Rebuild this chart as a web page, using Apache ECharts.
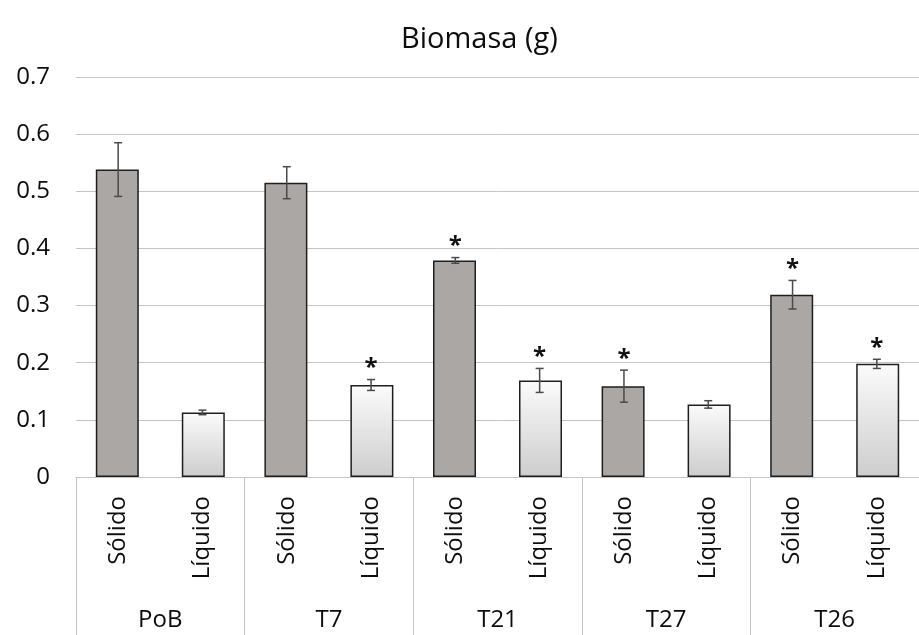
<!DOCTYPE html>
<html>
<head>
<meta charset="utf-8">
<script src="https://cdn.jsdelivr.net/npm/echarts@6/dist/echarts.min.js"></script>
<style>
html,body{margin:0;padding:0;background:#fff;}
#chart{width:919px;height:635px;}
</style>
</head>
<body>
<div id="chart"></div>
<script>
// ---- data ----
const groups = ['PoB', 'T7', 'T21', 'T27', 'T26'];
const subLabels = ['Sólido', 'Líquido'];
const solidValues = [0.538, 0.515, 0.379, 0.159, 0.319];
const solidErrors = [0.047, 0.028, 0.005, 0.028, 0.025];
const solidSignif = [0, 0, 1, 1, 1];
const liquidValues = [0.113, 0.161, 0.169, 0.127, 0.198];
const liquidErrors = [0.004, 0.0095, 0.021, 0.0065, 0.008];
const liquidSignif = [0, 1, 1, 0, 1];
const yTicks = [0, 0.1, 0.2, 0.3, 0.4, 0.5, 0.6, 0.7];

const FONT = 'Open Sans';
const subCats = [];
groups.forEach(() => subLabels.forEach(s => subCats.push(s)));

function errData(values, errors, signif, side) {
  return values.map((v, i) => [i, v, errors[i], signif[i], side]);
}

function renderErr(params, api) {
  const idx = api.value(0), v = api.value(1), e = api.value(2), sig = api.value(3), side = api.value(4);
  const bw = api.size([1, 0])[0];
  const off = side * bw / 4;
  const top = api.coord([idx, v + e]);
  const bot = api.coord([idx, v - e]);
  const x = top[0] + off;
  const cap = 4;
  const style = { stroke: '#4a4a4a', lineWidth: 1.5 };
  const children = [
    { type: 'line', shape: { x1: x, y1: top[1], x2: x, y2: bot[1] }, style },
    { type: 'line', shape: { x1: x - cap, y1: top[1], x2: x + cap, y2: top[1] }, style },
    { type: 'line', shape: { x1: x - cap, y1: bot[1], x2: x + cap, y2: bot[1] }, style }
  ];
  if (sig) {
    children.push({
      type: 'text',
      style: { text: '*', x: x, y: top[1] - 11, align: 'center', verticalAlign: 'middle',
               fontFamily: FONT, fontWeight: 'bold', fontSize: 24, fill: '#111' }
    });
  }
  return { type: 'group', children };
}

const chart = echarts.init(document.getElementById('chart'), null, { renderer: 'canvas' });
chart.setOption({
  animation: false,
  backgroundColor: '#ffffff',
  title: {
    text: 'Biomasa (g)', left: 396, top: 20,
    textStyle: { fontFamily: FONT, fontSize: 29, fontWeight: 'normal', color: '#0d0d0d' }
  },
  grid: { left: 76, right: -13, top: 77, bottom: 158, containLabel: false },
  yAxis: {
    type: 'value', min: 0, max: 0.7, interval: 0.1,
    axisLine: { show: false }, axisTick: { show: false },
    splitLine: { lineStyle: { color: '#c4c4c4', width: 1 } },
    axisLabel: {
      margin: 26, fontFamily: FONT, fontSize: 24, color: '#0d0d0d',
      formatter: v => { const t = yTicks.find(k => Math.abs(k - v) < 1e-9); return t === undefined ? '' : String(t); }
    }
  },
  xAxis: [
    {
      type: 'category', data: groups, position: 'bottom', boundaryGap: true,
      axisLine: { show: true, lineStyle: { color: '#c4c4c4', width: 1 } },
      axisTick: { show: true, interval: 0, length: 160, lineStyle: { color: '#c4c4c4', width: 1 } },
      axisLabel: { interval: 0, margin: 131, fontFamily: FONT, fontSize: 24, color: '#0d0d0d' }
    },
    {
      type: 'category', data: subCats, position: 'bottom', boundaryGap: true,
      axisLine: { show: false }, axisTick: { show: false },
      axisLabel: { interval: 0, rotate: 90, margin: 19, fontFamily: FONT, fontSize: 24, color: '#0d0d0d' }
    }
  ],
  series: [
    {
      name: 'Sólido', type: 'bar', xAxisIndex: 0, data: solidValues,
      barWidth: 43, barGap: '100%',
      itemStyle: { color: '#aba7a5', borderColor: '#1e1e1e', borderWidth: 1.5 }
    },
    {
      name: 'Líquido', type: 'bar', xAxisIndex: 0, data: liquidValues,
      barWidth: 43, barGap: '100%',
      itemStyle: {
        color: new echarts.graphic.LinearGradient(0, 0, 0, 1, [
          { offset: 0, color: '#fbfbfb' }, { offset: 1, color: '#cdcdcd' }
        ]),
        borderColor: '#1e1e1e', borderWidth: 1.5
      }
    },
    {
      type: 'custom', xAxisIndex: 0, z: 5, clip: false,
      data: errData(solidValues, solidErrors, solidSignif, -1),
      renderItem: renderErr
    },
    {
      type: 'custom', xAxisIndex: 0, z: 5, clip: false,
      data: errData(liquidValues, liquidErrors, liquidSignif, 1),
      renderItem: renderErr
    }
  ]
});
</script>
</body>
</html>
